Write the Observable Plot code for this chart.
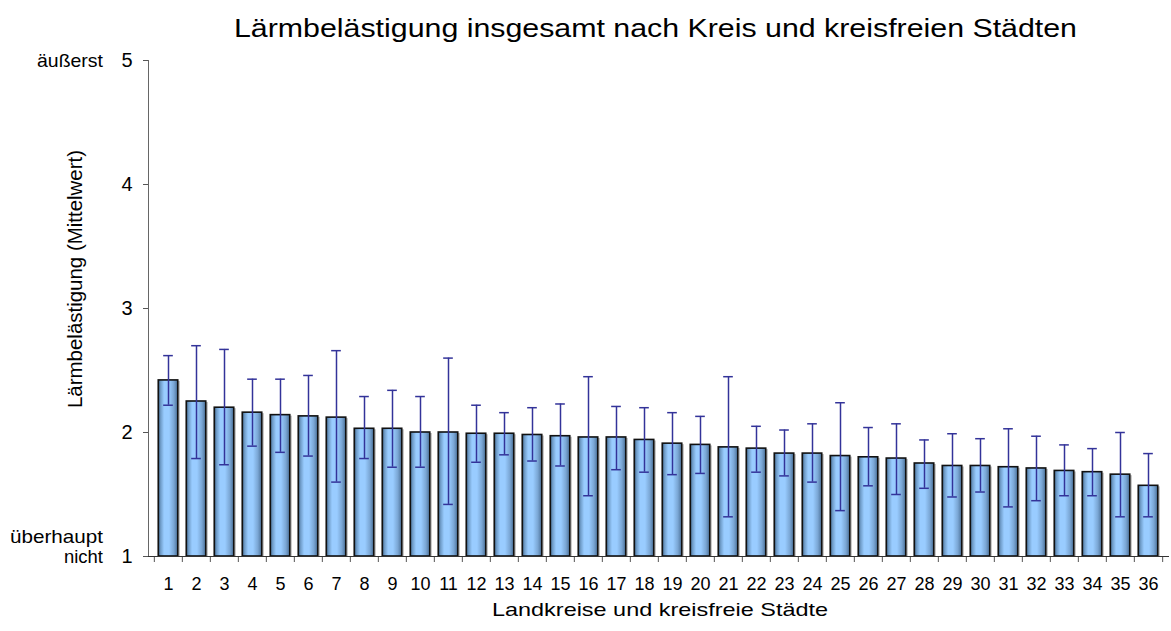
<!DOCTYPE html>
<html>
<head>
<meta charset="utf-8">
<script src="https://cdn.jsdelivr.net/npm/d3@7"></script>
<script src="https://cdn.jsdelivr.net/npm/@observablehq/plot@0.6"></script>
<style>
  body { margin: 0; background: #fff; }
  #chart { position: relative; width: 1171px; height: 631px; }
  svg { font-family: "Liberation Sans", Arial, sans-serif; }
</style>
</head>
<body>
<div id="chart"></div>
<script>
const categories = ["1","2","3","4","5","6","7","8","9","10","11","12","13","14","15","16","17","18","19","20","21","22","23","24","25","26","27","28","29","30","31","32","33","34","35","36"];
const means = [2.42, 2.25, 2.20, 2.16, 2.14, 2.13, 2.12, 2.03, 2.03, 2.00, 2.00, 1.99, 1.99, 1.98, 1.97, 1.96, 1.96, 1.94, 1.91, 1.90, 1.88, 1.87, 1.83, 1.83, 1.81, 1.80, 1.79, 1.75, 1.73, 1.73, 1.72, 1.71, 1.69, 1.68, 1.66, 1.57];
const upper = [2.62, 2.70, 2.67, 2.43, 2.43, 2.46, 2.66, 2.29, 2.34, 2.29, 2.60, 2.22, 2.16, 2.20, 2.23, 2.45, 2.21, 2.20, 2.16, 2.13, 2.45, 2.05, 2.02, 2.07, 2.24, 2.04, 2.07, 1.94, 1.99, 1.95, 2.03, 1.97, 1.90, 1.87, 2.00, 1.83];
const lower = [2.22, 1.79, 1.74, 1.89, 1.84, 1.81, 1.60, 1.79, 1.72, 1.72, 1.42, 1.76, 1.82, 1.77, 1.73, 1.49, 1.70, 1.68, 1.66, 1.67, 1.32, 1.68, 1.65, 1.60, 1.37, 1.57, 1.50, 1.55, 1.48, 1.52, 1.40, 1.45, 1.49, 1.49, 1.32, 1.32];
const yTicks = [1, 2, 3, 4, 5];

const title = "Lärmbelästigung insgesamt nach Kreis und kreisfreien Städten";
const yLabel = "Lärmbelästigung (Mittelwert)";
const xLabel = "Landkreise und kreisfreie Städte";
const topLabel = "äußerst";
const bottomLabel = ["überhaupt", "nicht"];

const data = categories.map((c, i) => ({cat: c, mean: means[i], lo: lower[i], hi: upper[i]}));

const W = 1171, H = 631;
const mL = 148, mR = 3, mT = 60, mB = 75;
const bw = (W - mL - mR) / categories.length;
const errColor = "#333399";

const plot = Plot.plot({
  width: W,
  height: H,
  marginLeft: mL,
  marginRight: mR,
  marginTop: mT,
  marginBottom: mB,
  style: {fontFamily: "Liberation Sans, Arial, sans-serif", background: "#fff", color: "#000"},
  x: {domain: categories, padding: 0, label: null},
  y: {domain: [1, 5], label: null},
  marks: [
    // shadow
    Plot.barY(data, {x: "cat", y1: 1, y2: "mean", fill: "#b8b8b8", insetLeft: bw * 0.15, insetRight: bw * 0.15, dx: 2, dy: 1}),
    Plot.barY(data, {x: "cat", y1: 1, y2: "mean", fill: "url(#barGrad)", stroke: "#111", strokeWidth: 1.6, insetLeft: bw * 0.15, insetRight: bw * 0.15}),
    Plot.ruleX(data, {x: "cat", y1: "lo", y2: "hi", stroke: errColor, strokeWidth: 1.5}),
    Plot.tickY(data, {x: "cat", y: "hi", stroke: errColor, strokeWidth: 1.5, insetLeft: bw / 2 - 5, insetRight: bw / 2 - 5}),
    Plot.tickY(data, {x: "cat", y: "lo", stroke: errColor, strokeWidth: 1.5, insetLeft: bw / 2 - 5, insetRight: bw / 2 - 5}),
    Plot.axisY({ticks: yTicks, tickSize: 5, tickPadding: 11, fontSize: 20, stroke: "#555", tickFormat: d3.format("d")}),
    // x tick marks at band boundaries
    Plot.axisX({tickSize: 6, tickFormat: () => "", dx: -bw / 2, stroke: "#555"}),
    Plot.axisX(["36"], {tickSize: 6, tickFormat: () => "", dx: bw / 2, stroke: "#555"}),
    Plot.axisX({tickSize: 0, tickPadding: 21, fontSize: 18}),
    Plot.frame({anchor: "left", stroke: "#666"}),
    Plot.frame({anchor: "bottom", stroke: "#333"})
  ]
});

const svg = d3.select(plot);
const defs = svg.insert("defs", ":first-child");
const grad = defs.append("linearGradient").attr("id", "barGrad").attr("x1", "0").attr("x2", "1").attr("y1", "0").attr("y2", "0");
[[0, "#3a5878"], [0.12, "#6f9cc8"], [0.3, "#99ccff"], [0.55, "#99ccff"], [0.8, "#7aa6d4"], [1, "#4a6f96"]].forEach(([o, c]) => {
  grad.append("stop").attr("offset", o).attr("stop-color", c);
});

const txt = (x, y, s, size, anchor, len, extra) => {
  const t = svg.append("text").attr("x", x).attr("y", y).attr("font-size", size)
    .attr("text-anchor", anchor).attr("fill", "#000").text(s)
    .style("font-family", "Liberation Sans, Arial, sans-serif");
  if (len) t.attr("textLength", len).attr("lengthAdjust", "spacingAndGlyphs");
  if (extra) extra(t);
  return t;
};
txt(655.5, 37, title, 26, "middle", 843);
txt(660, 616, xLabel, 19, "middle", 336);
txt(0, 0, yLabel, 20, "middle", 258, t => t.attr("transform", "translate(82,279) rotate(-90)"));
txt(103, 67, topLabel, 19, "end", 66);
txt(103, 543, bottomLabel[0], 19, "end", 93);
txt(103, 563, bottomLabel[1], 19, "end", 39);

document.getElementById("chart").appendChild(plot);
</script>
</body>
</html>
